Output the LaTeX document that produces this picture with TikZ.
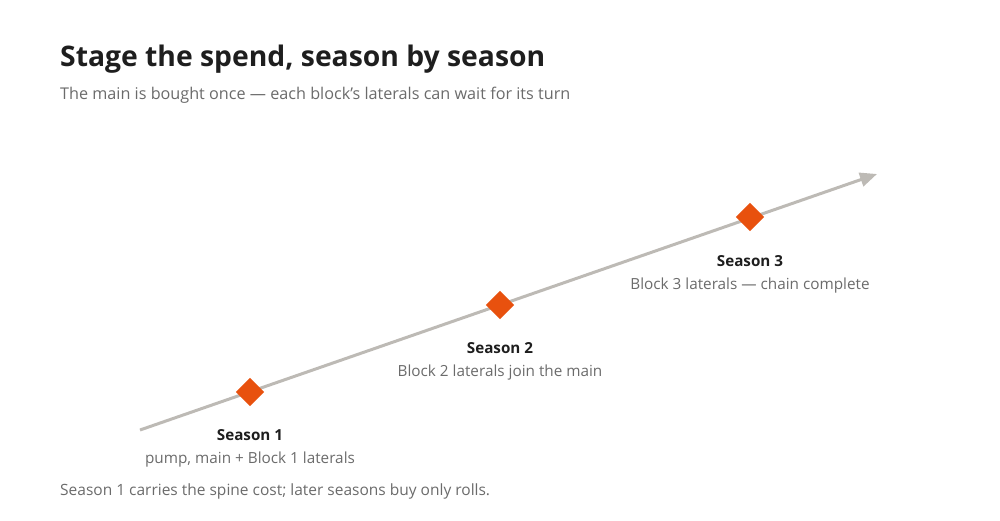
\documentclass[tikz,border=0pt]{standalone}
\usepackage{fontspec}
\setmainfont{Open Sans}
\usetikzlibrary{arrows.meta}
\definecolor{ink}{HTML}{1E1E1E}
\definecolor{muted}{HTML}{6B6B6B}
\definecolor{track}{HTML}{BDBAB5}
\definecolor{accent}{HTML}{E8510E}
\tikzset{
  x=1pt,y=-1pt,
  ttl/.style={anchor=base west,inner sep=0pt,font=\fontsize{28.3}{32}\selectfont\bfseries,text=ink},
  sub/.style={anchor=base west,inner sep=0pt,font=\fontsize{16.2}{19}\selectfont,text=muted},
  note/.style={anchor=base west,inner sep=0pt,font=\fontsize{15.5}{18}\selectfont,text=muted},
  gem/.style={fill=accent,draw=none,minimum size=20pt,inner sep=0pt,rotate=45,shape=rectangle},
  head/.style={anchor=base,inner sep=0pt,font=\fontsize{15.2}{18}\selectfont\bfseries,text=ink},
  desc/.style={anchor=base,inner sep=0pt,font=\fontsize{15.3}{18}\selectfont,text=muted},
  trackline/.style={draw=track,line width=3pt,-{Triangle[length=17pt,width=14pt]}}
}
\begin{document}
\begin{tikzpicture}
\useasboundingbox (0,0) rectangle (1000,520);
\node[ttl] (title) at (60,66) {Stage the spend, season by season};
\node[sub] (subtitle) at (60,99) {The main is bought once — each block's laterals can wait for its turn};
\coordinate (start) at (140,430);
\coordinate (end) at (877,174);
\draw[trackline] (start) -- (end);
\node[gem] (d1) at (250,392) {};
\node[gem] (d2) at (500,305) {};
\node[gem] (d3) at (750,217) {};
\node[head] (h1) at (250,440) {Season 1};
\node[desc] (s1) at (250,463) {pump, main + Block 1 laterals};
\node[head] (h2) at (500,353) {Season 2};
\node[desc] (s2) at (500,376) {Block 2 laterals join the main};
\node[head] (h3) at (750,266) {Season 3};
\node[desc] (s3) at (750,289) {Block 3 laterals — chain complete};
\node[note] (foot) at (60,495) {Season 1 carries the spine cost; later seasons buy only rolls.};
\end{tikzpicture}
\end{document}
